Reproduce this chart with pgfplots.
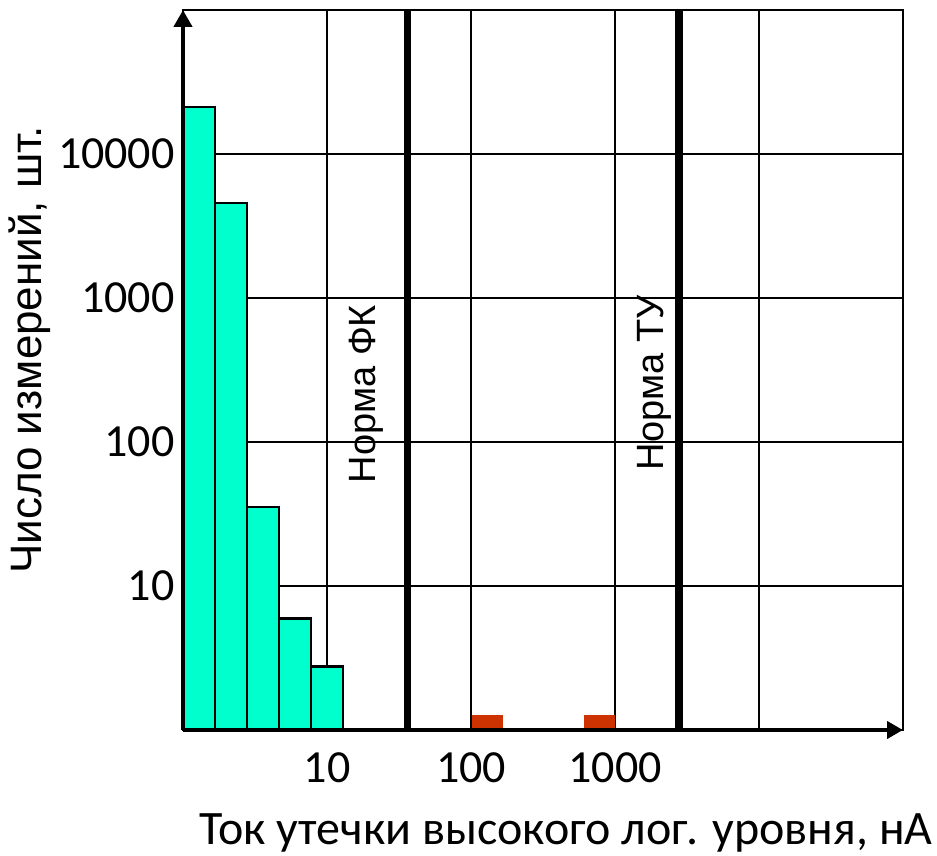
\documentclass[border=0pt]{standalone}
\usepackage{fontspec}
\setmainfont{Carlito}
\newfontfamily\arial{Liberation Sans}
\usepackage{pgfplots}
\pgfplotsset{compat=1.18}
\usetikzlibrary{arrows.meta}
\definecolor{barcyan}{HTML}{00FFCC}
\definecolor{barred}{HTML}{CC3300}
\begin{document}
\begin{tikzpicture}
\path[use as bounding box] (-91.5pt,-63pt) rectangle (377pt,365pt);
\begin{axis}[
  scale only axis, width=360pt, height=360pt,
  at={(0,0)}, anchor=south west,
  xmode=log, ymode=log,
  xmin=1, xmax=100000, ymin=1, ymax=100000,
  clip=false,
  xtick={1,10,100,1000,10000,100000},
  xticklabels={,10,100,1000,,},
  ytick={1,10,100,1000,10000,100000},
  yticklabels={,10,100,1000,10000,},
  grid=major,
  major grid style={black, line width=1.1pt},
  axis line style={black, line width=1.1pt},
  tick style={draw=none},
  tick label style={font=\fontsize{23}{27}\selectfont},
  xticklabel style={anchor=north, inner sep=0pt, yshift=-11pt},
  yticklabel style={anchor=east, inner sep=0pt, xshift=-4pt},
  /pgf/number format/assume math mode=true,
  xlabel={Ток утечки высокого лог. уровня, нА},
  xlabel style={font=\fontsize{24}{28}\selectfont, at={(axis description cs:0.532,-0.1597)}, anchor=base, inner sep=0pt},
  ylabel={\arial Число измерений, шт.},
  ylabel style={font=\fontsize{22}{26}\selectfont, at={(axis description cs:-0.2125,0.528)}, anchor=center, inner sep=0pt},
]
% cyan histogram bars
\addplot[ybar interval, fill=barcyan, draw=black, line width=1.3pt]
  coordinates {(1,21200) (1.668,4560) (2.783,35.4) (4.642,5.93) (7.743,2.75) (12.915,2.75)};
% red bars
\addplot[ybar interval, fill=barred, draw=none] coordinates {(101.6,1.27) (166.8,1.27)};
\addplot[ybar interval, fill=barred, draw=none] coordinates {(609,1.27) (1000,1.27)};
% norm lines
\addplot[black, line width=3.6pt] coordinates {(36.2,1) (36.2,100000)};
\addplot[black, line width=3.6pt] coordinates {(2782,1) (2782,100000)};
\node[rotate=90, anchor=center, font=\arial\fontsize{19}{22}\selectfont] at (axis cs:18.7,215) {Норма ФК};
\node[rotate=90, anchor=center, font=\arial\fontsize{19}{22}\selectfont] at (axis cs:1866,257) {Норма ТУ};
% thick axes with arrows
\addplot[black, line width=2.2pt, -{Triangle[width=9pt,length=8.5pt]}] coordinates {(1,1) (1,100000)};
\addplot[black, line width=2.2pt, -{Triangle[width=8.5pt,length=8pt]}] coordinates {(1,1) (100000,1)};
\end{axis}
\end{tikzpicture}
\end{document}
